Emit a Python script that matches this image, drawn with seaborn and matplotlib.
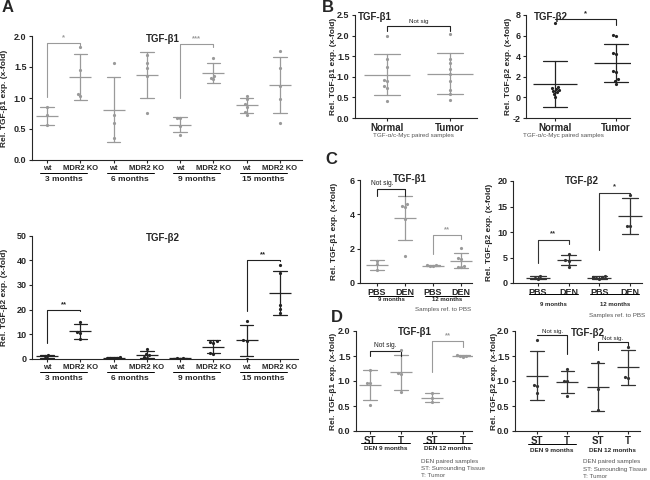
import numpy as np
import pandas as pd
import seaborn as sns
import matplotlib.pyplot as plt
from matplotlib.transforms import blended_transform_factory

sns.set_style("ticks")
plt.rcParams['font.family'] = ['Liberation Sans', 'DejaVu Sans']
plt.rcParams['font.weight'] = 'bold'

# ---------------- data ----------------
# A: MDR2 KO mice, wt / KO at 3, 6, 9, 15 months
a_ticks = ["wt", "MDR2 KO"] * 4
a_months = ["3 months", "6 months", "9 months", "15 months"]
a1_values = [
    [0.85, 0.73, 0.56],
    [1.82, 1.45, 1.07, 1.03],
    [1.56, 0.73, 0.60, 0.36],
    [1.70, 1.57, 1.49, 1.35, 0.75],
    [0.67, 0.67, 0.55, 0.40],
    [1.65, 1.35, 1.30, 1.33],
    [1.04, 0.98, 0.90, 0.86, 0.77, 0.73],
    [1.76, 1.49, 1.20, 0.98, 0.60],
]
a2_values = [
    [1.6, 1.2, 0.3],
    [15.0, 11.0, 10.6, 8.0],
    [0.9, 0.5, 0.3, 0.2, 0.6],
    [3.9, 2.0, 1.6, 0.9, 0.6],
    [0.5, 0.3, 0.2],
    [7.1, 6.8, 6.6, 2.3, 2.2],
    [15.2, 7.6, 7.3, 0.0],
    [38.1, 34.9, 21.9, 20.3, 18.6],
]
# B: TGF-a/c-Myc paired samples
b_ticks = ["Normal", "Tumor"]
b1_values = [
    [2.00, 1.43, 1.25, 0.93, 0.90, 0.77, 0.74, 0.42],
    [2.05, 1.42, 1.33, 1.20, 1.06, 0.90, 0.69, 0.59, 0.43],
]
b2_values = [
    [7.2, 1.0, 0.9, 0.8, 0.7, 0.6, 0.5, 0.3, 0.0],
    [6.05, 5.95, 4.35, 4.2, 2.6, 2.45, 1.75, 1.6, 1.3],
]
# C: PBS / DEN at 9 and 12 months
c_ticks = ["PBS", "DEN", "PBS", "DEN"]
c_months = ["9 months", "12 months"]
c1_values = [
    [1.30, 1.10, 0.75],
    [4.60, 4.50, 4.45, 3.70, 1.58],
    [1.05, 1.00, 0.97, 1.02],
    [2.02, 1.45, 1.42, 0.97, 0.94, 0.92],
]
c2_values = [
    [1.3, 1.0, 0.8],
    [5.6, 4.6, 4.4, 3.2],
    [1.3, 1.25, 1.1, 0.9, 0.8],
    [17.3, 11.2, 11.1],
]
# D: DEN paired samples, surrounding tissue / tumor
d_ticks = ["ST", "T", "ST", "T"]
d_months = ["DEN 9 months", "DEN 12 months"]
d1_values = [
    [1.22, 0.97, 0.97, 0.52],
    [1.63, 1.16, 1.14, 0.78],
    [0.76, 0.67, 0.58],
    [1.52, 1.50, 1.51, 1.49],
]
d2_values = [
    [1.83, 0.92, 0.90, 0.77],
    [1.24, 1.01, 1.00, 0.70],
    [1.38, 0.85, 0.42],
    [1.68, 1.08, 1.07],
]

GREY = "#9a9a9a"
DARK = "#222222"
NOTE = "#555555"

fig = plt.figure(figsize=(6.5, 4.8), dpi=100)
W, H = 650, 480


def rect_px(x0, y0, x1, y1):
    return [x0 / W, 1 - y1 / H, (x1 - x0) / W, (y1 - y0) / H]


def dot_panel(rect, values, ticks, color, ylim, yticks, xlim, ylabel, ylab_px,
              msize=16, capsize=0.4, tick_fs=6, yfmt="{:.1f}"):
    ax = fig.add_axes(rect)
    keys = [f"g{i}" for i in range(len(values))]
    df = pd.DataFrame({"grp": np.repeat(keys, [len(v) for v in values]),
                       "val": np.concatenate(values)})
    sns.swarmplot(data=df, x="grp", y="val", order=keys, color=color, size=2.3, ax=ax)
    sns.pointplot(data=df, x="grp", y="val", order=keys, errorbar="sd", capsize=capsize,
                  color=color, markers="_", linestyles="none", markersize=msize,
                  markeredgewidth=0.9, err_kws={"linewidth": 0.9}, ax=ax)
    ax.set_xlim(*xlim)
    ax.set_ylim(*ylim)
    ax.set_yticks(yticks)
    ax.set_yticklabels([yfmt.format(t) for t in yticks], fontsize=6.5, fontweight="bold")
    ax.set_xticks(range(len(ticks)))
    ax.set_xticklabels(ticks, fontsize=tick_fs, fontweight="bold")
    ax.set_xlabel("")
    ax.set_ylabel(ylabel, fontsize=6, fontweight="bold")
    w_px = rect[2] * W
    ax.yaxis.set_label_coords(-ylab_px / w_px, 0.5)
    sns.despine(ax=ax)
    for s in ("left", "bottom"):
        ax.spines[s].set_linewidth(0.8)
    ax.tick_params(length=2.5, width=0.8, pad=1.5)
    ax.tick_params(axis="x", length=2)
    return ax


def px_y(ax, px):
    # pixel offset below the bottom spine -> axes fraction
    return -px / (ax.get_position().height * H)


def groups(ax, names, off, line_px, text_px, fs, lines=None):
    tr = blended_transform_factory(ax.transData, ax.transAxes)
    for g, name in enumerate(names):
        i0, i1 = 2 * g, 2 * g + 1
        if lines is None or lines[g]:
            ax.plot([i0 - off, i1 + off], [px_y(ax, line_px)] * 2, color="black",
                    lw=0.7, transform=tr, clip_on=False)
        ax.text((i0 + i1) / 2, px_y(ax, text_px), name, transform=tr, ha="center",
                va="center", fontsize=fs, fontweight="bold")


def bracket(ax, i, j, top, yl, yr, label, color, fs=5.5, lx=None, dy=0.0):
    ax.plot([i, i, j, j], [yl, top, top, yr], color=color, lw=0.8, clip_on=False)
    tx = (i + j) / 2 if lx is None else lx
    ns = label.startswith("Not")
    ax.annotate(label, (tx, top), xytext=(0, 1.5 + dy), textcoords="offset points",
                ha="center", va="bottom", fontsize=fs, color=DARK if ns else color,
                fontweight="normal" if ns else "bold")


def title(x_px, y_px, text, ha="center"):
    fig.text(x_px / W, 1 - y_px / H, text, ha=ha, va="center", fontsize=7, fontweight="bold")


def note(ax, xfrac, ypx, text, ha="left"):
    ax.text(xfrac, px_y(ax, ypx), text, transform=ax.transAxes, ha=ha, va="center",
            fontsize=4.5, fontweight="normal", color=NOTE)


# ---------------- A ----------------
axA1 = dot_panel(rect_px(32, 36, 302, 160), a1_values, a_ticks, GREY, (0, 2.0),
                 [0, 0.5, 1.0, 1.5, 2.0], (-0.45, 7.66), "Rel. TGF-β1 exp. (x-fold)", 24,
                 tick_fs=5.5)
groups(axA1, a_months, 0.2, 12.7, 19.5, 6)
bracket(axA1, 0, 1, 1.88, 1.02, 1.84, "*", GREY)
bracket(axA1, 4, 5, 1.87, 1.0, 1.83, "***", GREY)
title(163, 39, "TGF-β1")

axA2 = dot_panel(rect_px(32, 235.5, 298, 359), a2_values, a_ticks, DARK, (0, 50),
                 [0, 10, 20, 30, 40, 50], (-0.45, 7.54), "Rel. TGF-β2 exp. (x-fold)", 24,
                 tick_fs=5.5, yfmt="{:.0f}")
groups(axA2, a_months, 0.2, 13.3, 20, 6)
bracket(axA2, 0, 1, 19.8, 6.4, 19.6, "**", DARK)
bracket(axA2, 6, 7, 40.0, 19.5, 39.5, "**", DARK)
title(163, 238, "TGF-β2")

# ---------------- B ----------------
axB1 = dot_panel(rect_px(355, 15, 477, 118), b1_values, b_ticks, GREY, (0, 2.5),
                 [0, 0.5, 1.0, 1.5, 2.0, 2.5], (-0.51, 1.43), "Rel. TGF-β1 exp. (x-fold)", 18,
                 msize=33, tick_fs=7)
bracket(axB1, 0, 1, 2.23, 2.12, 2.12, "Not sig", DARK, fs=4.5)
note(axB1, 0.148, 18, "TGF-α/c-Myc paired samples")
title(358, 17, "TGF-β1", ha="left")

axB2 = dot_panel(rect_px(526, 15, 630, 118), b2_values, b_ticks, DARK, (-2, 8),
                 [-2, 0, 2, 4, 6, 8], (-0.475, 1.23), "Rel. TGF-β2 exp. (x-fold)", 14,
                 msize=32, tick_fs=7, yfmt="{:.0f}")
bracket(axB2, 0, 1, 7.62, 7.62, 7.05, "*", DARK)
note(axB2, -0.03, 18, "TGF-α/c-Myc paired samples")
title(534, 17, "TGF-β2", ha="left")

# ---------------- C ----------------
axC1 = dot_panel(rect_px(360, 180, 472, 283), c1_values, c_ticks, GREY, (0, 6),
                 [0, 2, 4, 6], (-0.61, 3.39), "Rel. TGF-β1 exp. (x-fold)", 22,
                 msize=16, capsize=0.5, tick_fs=6.5, yfmt="{:.0f}")
groups(axC1, c_months, 0.3, 12.5, 16.5, 4.3)
bracket(axC1, 0, 1, 5.45, 5.05, 5.05, "Not sig.", DARK, fs=4.8, lx=0.2)
bracket(axC1, 2, 3, 2.77, 1.67, 2.55, "**", GREY)
note(axC1, 0.74, 26, "Samples ref. to PBS", ha="center")
title(410, 179, "TGF-β1")

axC2 = dot_panel(rect_px(513, 181, 642, 283), c2_values, c_ticks, "#333333", (0, 20),
                 [0, 5, 10, 15, 20], (-0.81, 3.39), "Rel. TGF-β2 exp. (x-fold)", 20,
                 msize=17, capsize=0.5, tick_fs=6.5, yfmt="{:.0f}")
groups(axC2, c_months, 0.3, 11, 21, 4.3)
bracket(axC2, 0, 1, 8.5, 4.0, 7.6, "**", "#333333")
bracket(axC2, 2, 3, 17.7, 6.5, 17.5, "*", "#333333")
note(axC2, 0.81, 32, "Samples ref. to PBS", ha="center")
title(582, 181, "TGF-β2")

# ---------------- D ----------------
axD1 = dot_panel(rect_px(356, 331, 472, 431), d1_values, d_ticks, GREY, (0, 2.0),
                 [0, 0.5, 1.0, 1.5, 2.0], (-0.45, 3.29), "Rel. TGF-β1 exp. (x-fold)", 19,
                 msize=16, capsize=0.45, tick_fs=7)
groups(axD1, d_months, 0.3, 12, 17, 4.6)
bracket(axD1, 0, 1, 1.6, 1.51, 1.51, "Not sig.", DARK, fs=4.8)
bracket(axD1, 2, 3, 1.8, 1.18, 1.68, "**", GREY)
for k, line in enumerate(["DEN paired samples", "ST: Surrounding Tissue", "T: Tumor"]):
    note(axD1, 0.56, 30 + 7.3 * k, line)
title(415, 332, "TGF-β1")

axD2 = dot_panel(rect_px(515, 331, 640, 431), d2_values, d_ticks, "#333333", (0, 2.0),
                 [0, 0.5, 1.0, 1.5, 2.0], (-0.73, 3.4), "Rel. TGF-β2 exp. (x-fold)", 17,
                 msize=16, capsize=0.45, tick_fs=7)
groups(axD2, d_months, 0.3, 13, 19, 4.6, lines=[True, False])
bracket(axD2, 0, 1, 1.92, 1.92, 1.55, "Not sig.", DARK, fs=4.5, dy=-1)
bracket(axD2, 2, 3, 1.78, 1.62, 1.66, "Not sig.", DARK, fs=4.5, dy=-1)
for k, line in enumerate(["DEN paired samples", "ST: Surrounding Tissue", "T: Tumor"]):
    note(axD2, 0.544, 30 + 8 * k, line)
title(588, 333, "TGF-β2")

# panel letters
for letter, x, y in [("A", 8, 8), ("B", 328, 7), ("C", 331, 160), ("D", 337, 318)]:
    fig.text(x / W, 1 - y / H, letter, fontsize=12, fontweight="bold", ha="center", va="center")

fig.savefig("out.png", dpi=100)
